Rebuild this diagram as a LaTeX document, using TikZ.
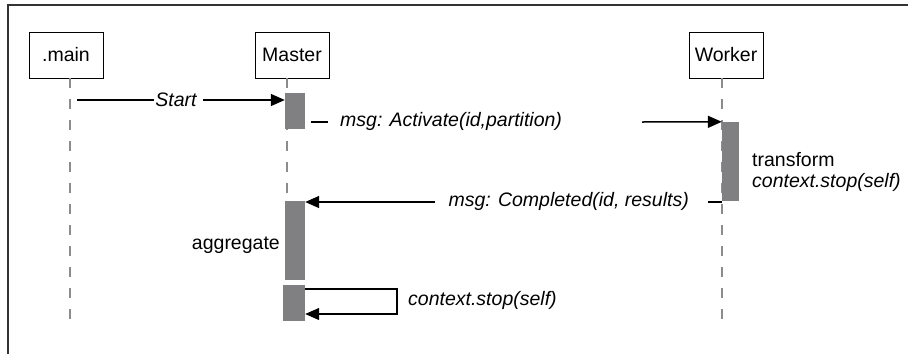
\documentclass[tikz,border=0pt]{standalone}
\usepackage{fontspec}
\setmainfont{Liberation Sans}
\usetikzlibrary{arrows.meta}
\definecolor{bargray}{RGB}{128,128,131}
\begin{document}
\begin{tikzpicture}[x=1pt,y=-1pt,
  actor/.style={draw=black,line width=0.9pt,minimum width=74pt,minimum height=46pt,inner sep=0pt,font=\fontsize{19.5}{22}\selectfont},
  life/.style={draw=black!45,line width=1.1pt,dash pattern=on 10pt off 11pt},
  bar/.style={fill=bargray,draw=none,inner sep=0pt},
  msg/.style={draw=black,line width=1.5pt},
  tip/.style={-{Triangle[length=14pt,width=12pt]}},
  lbl/.style={font=\fontsize{19.5}{22}\selectfont\itshape,inner sep=0pt},
  note/.style={font=\fontsize{19.5}{22}\selectfont,inner sep=0pt}]
\useasboundingbox (0,0) rectangle (908,354);
\draw[black!80,line width=1.3pt] (8,354) -- (8,5) -- (908,5);
% actors
\node[actor] (main) at (66,55) {.main};
\node[actor] (master) at (292,55) {Master};
\node[actor] (worker) at (726,55) {Worker};
% lifelines
\coordinate (mainend) at (70,320);
\coordinate (masterend) at (287,320);
\coordinate (workerend) at (722,320);
\draw[life] (70,78) -- (mainend);
\draw[life] (287,78) -- (masterend);
\draw[life] (722,78) -- (workerend);
% activation bars
\node[bar,minimum width=20pt,minimum height=36pt] (b1) at (295,111) {};
\node[bar,minimum width=17pt,minimum height=79pt] (bw) at (730.5,161.5) {};
\node[bar,minimum width=20pt,minimum height=79pt] (b2) at (295,240.5) {};
\node[bar,minimum width=22pt,minimum height=36pt] (b3) at (294,303) {};
% Start
\coordinate (s0) at (77,100);
\node[lbl] (start) at (176,100) {Start};
\draw[msg] (s0) -- ([xshift=-1pt]start.west);
\draw[msg,tip] ([xshift=6pt]start.east) -- (b1.north west |- 0,100);
% Activate
\coordinate (a0) at (311,122);
\coordinate (a1) at (328,122);
\coordinate (a2) at (642,122);
\node[lbl,anchor=west] (act) at (340,121) {msg: Activate(id,partition)};
\draw[msg] (a0) -- (a1);
\draw[msg,tip] (a2) -- (bw.north west);
% Completed
\coordinate (c0) at (722,202);
\coordinate (c1) at (708,202);
\coordinate (c2) at (435,202);
\node[lbl,anchor=east] (comp) at (689,201) {msg: Completed(id, results)};
\draw[msg] (c0) -- (c1);
\draw[msg,tip] (c2) -- (b2.north east |- 0,202);
% worker notes
\node[note,anchor=west] (tr) at (752,160) {transform};
\node[lbl,anchor=west] (cs1) at (752,182) {context.stop(self)};
% aggregate
\node[note,anchor=east] (agg) at (280,245) {aggregate};
% self message
\coordinate (r1) at (397,289);
\coordinate (r2) at (397,314);
\draw[msg,line width=1.2pt,tip] (b3.east |- 0,289) -- (r1) -- (r2) -- (b3.east |- 0,314);
\node[lbl,anchor=west] (cs2) at (408,300) {context.stop(self)};
\end{tikzpicture}
\end{document}
